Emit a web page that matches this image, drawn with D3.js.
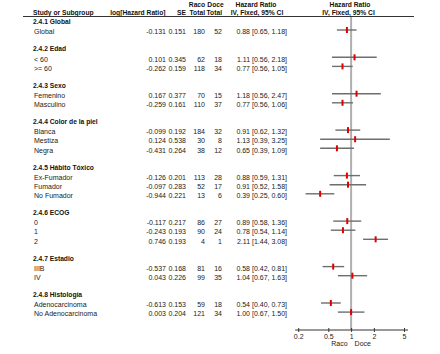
<!DOCTYPE html>
<html>
<head>
<meta charset="utf-8">
<script src="https://cdn.jsdelivr.net/npm/d3@7"></script>
<style>
  body { margin: 0; background: #fff; }
  svg text { font-family: "Liberation Sans", Arial, sans-serif; font-size: 7px; fill: #222; }
  svg text.b { font-weight: bold; font-size: 6.7px; fill: #111; }
</style>
</head>
<body>
<div id="chart"></div>
<script>
// subgroup headings
var groups = ["2.4.1 Global", "2.4.2 Edad", "2.4.3 Sexo", "2.4.4 Color de la piel",
  "2.4.5 Hábito Tóxico", "2.4.6 ECOG", "2.4.7 Estadio", "2.4.8 Histología"];

// which heading each study row belongs to
var groupOf = [0, 1, 1, 2, 2, 3, 3, 3, 4, 4, 4, 5, 5, 5, 6, 6, 7, 7];

var labels = ["Global", "< 60", ">= 60", "Femenino", "Masculino", "Blanca", "Mestiza", "Negra",
  "Ex-Fumador", "Fumador", "No Fumador", "0", "1", "2", "IIIB", "IV",
  "Adenocarcinoma", "No Adenocarcinoma"];

var logHR = ["-0.131", "0.101", "-0.262", "0.167", "-0.259", "-0.099", "0.124", "-0.431",
  "-0.126", "-0.097", "-0.944", "-0.117", "-0.243", "0.746", "-0.537", "0.043", "-0.613", "0.003"];

var se = ["0.151", "0.345", "0.159", "0.377", "0.161", "0.192", "0.538", "0.264",
  "0.201", "0.283", "0.221", "0.217", "0.193", "0.193", "0.168", "0.226", "0.153", "0.204"];

var racoTotal = [180, 62, 118, 70, 110, 184, 30, 38, 113, 52, 13, 86, 90, 4, 81, 99, 59, 121];
var doceTotal = [52, 18, 34, 15, 37, 32, 8, 12, 28, 17, 6, 27, 24, 1, 16, 35, 18, 34];

var hr =   [0.88, 1.11, 0.77, 1.18, 0.77, 0.91, 1.13, 0.65, 0.88, 0.91, 0.39, 0.89, 0.78, 2.11, 0.58, 1.04, 0.54, 1.00];
var ciLo = [0.65, 0.56, 0.56, 0.56, 0.56, 0.62, 0.39, 0.39, 0.59, 0.52, 0.25, 0.58, 0.54, 1.44, 0.42, 0.67, 0.40, 0.67];
var ciHi = [1.18, 2.18, 1.05, 2.47, 1.06, 1.32, 3.25, 1.09, 1.31, 1.58, 0.60, 1.36, 1.14, 3.08, 0.81, 1.63, 0.73, 1.50];

var axisTicks = [0.2, 0.5, 1, 2, 5];

// build the row list: heading, studies, blank
var rows = [];
var slot = 0;
groups.forEach(function (g, gi) {
  rows.push({ type: "head", text: g, slot: slot++ });
  groupOf.forEach(function (k, i) {
    if (k === gi) rows.push({ type: "row", i: i, slot: slot++ });
  });
  slot++;
});
var studies = rows.filter(function (r) { return r.type === "row"; });

var width = 440, height = 354;

var svg = d3.select("#chart")
  .append("svg")
  .attr("width", width)
  .attr("height", height);

var y = d3.scaleLinear().domain([0, 32]).range([20.9, 20.9 + 32 * 9.1]);
var x = d3.scaleLog().domain([0.2, 5]).range([298.2, 404]);

var fmt = d3.format(".2f");

// column headers
var hdr = svg.append("g");
function htext(tx, ty, anchor, s) {
  hdr.append("text").attr("class", "b").attr("x", tx).attr("y", ty)
    .attr("text-anchor", anchor).text(s);
}
htext(197, 6.5, "middle", "Raco");
htext(215.5, 6.5, "middle", "Doce");
htext(256, 6.5, "middle", "Hazard Ratio");
htext(350, 6.5, "middle", "Hazard Ratio");
htext(33, 15, "start", "Study or Subgroup");
htext(165.5, 15, "end", "log[Hazard Ratio]");
htext(186, 15, "end", "SE");
htext(205, 15, "end", "Total");
htext(222, 15, "end", "Total");
htext(257, 15, "middle", "IV, Fixed, 95% CI");
htext(348.5, 15, "middle", "IV, Fixed, 95% CI");

svg.append("line")
  .attr("x1", 23).attr("x2", 414)
  .attr("y1", 16.5).attr("y2", 16.5)
  .attr("stroke", "#333").attr("stroke-width", 1);

// line of no effect
svg.append("line")
  .attr("x1", x(1)).attr("x2", x(1))
  .attr("y1", 17).attr("y2", 330)
  .attr("stroke", "#b0b0b0").attr("stroke-width", 2);

// subgroup headings
svg.append("g").selectAll("text")
  .data(rows.filter(function (r) { return r.type === "head"; }))
  .join("text")
  .attr("class", "b")
  .attr("x", 33)
  .attr("y", function (d) { return y(d.slot) + 3; })
  .text(function (d) { return d.text; });

// table text for each study row
var cols = [
  { x: 34, anchor: "start", v: function (i) { return labels[i]; } },
  { x: 166, anchor: "end", v: function (i) { return logHR[i]; } },
  { x: 186, anchor: "end", v: function (i) { return se[i]; } },
  { x: 205, anchor: "end", v: function (i) { return racoTotal[i]; } },
  { x: 222, anchor: "end", v: function (i) { return doceTotal[i]; } },
  { x: 287, anchor: "end", v: function (i) {
      return fmt(hr[i]) + " [" + fmt(ciLo[i]) + ", " + fmt(ciHi[i]) + "]"; } }
];
cols.forEach(function (c) {
  svg.append("g").selectAll("text")
    .data(studies)
    .join("text")
    .attr("x", c.x)
    .attr("y", function (d) { return y(d.slot) + 4.2; })
    .attr("text-anchor", c.anchor)
    .text(function (d) { return c.v(d.i); });
});

// confidence intervals
svg.append("g").selectAll("line")
  .data(studies)
  .join("line")
  .attr("x1", function (d) { return x(ciLo[d.i]); })
  .attr("x2", function (d) { return x(ciHi[d.i]); })
  .attr("y1", function (d) { return y(d.slot); })
  .attr("y2", function (d) { return y(d.slot); })
  .attr("stroke", "#6e6e6e")
  .attr("stroke-width", 1.4);

// point estimates
svg.append("g").selectAll("rect")
  .data(studies)
  .join("rect")
  .attr("x", function (d) { return x(hr[d.i]) - 1; })
  .attr("y", function (d) { return y(d.slot) - 3; })
  .attr("width", 2)
  .attr("height", 6)
  .attr("fill", "#e00000");

// bottom axis
var ax = svg.append("g")
  .attr("transform", "translate(0,330)")
  .call(d3.axisBottom(x).tickValues(axisTicks).tickFormat(d3.format("")).tickSize(2));
ax.select(".domain").remove();
ax.append("line")
  .attr("x1", x.range()[0] - 3).attr("x2", x.range()[1] + 4)
  .attr("stroke", "#333");
ax.selectAll(".tick line").attr("y1", -2).attr("y2", 2).attr("stroke", "#333");
ax.selectAll(".tick text")
  .attr("y", 4)
  .style("font-family", "Liberation Sans, Arial, sans-serif")
  .style("font-size", "7px")
  .attr("fill", "#222");

svg.append("text").attr("x", x(1) - 3.5).attr("y", 346).attr("text-anchor", "end").text("Raco");
svg.append("text").attr("x", x(1) + 3.5).attr("y", 346).attr("text-anchor", "start").text("Doce");
</script>
</body>
</html>
